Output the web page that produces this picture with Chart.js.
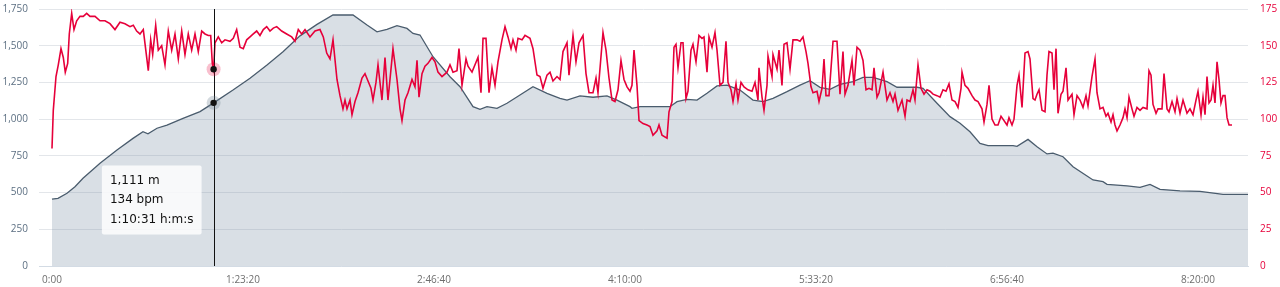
<!DOCTYPE html>
<html>
<head>
<meta charset="utf-8">
<script src="https://cdn.jsdelivr.net/npm/chart.js@4.4.1/dist/chart.umd.min.js"></script>
<style>
  html, body { margin: 0; padding: 0; background: #fff; }
  #wrap { position: relative; width: 1280px; height: 287px; }
</style>
</head>
<body>
<div id="wrap"><canvas id="profile"></canvas></div>
<script>
// elevation profile (seconds from start, metres)
var elevTimes = [0,157,393,602,812,1257,1702,2121,2382,2513,
  2749,3011,3430,3875,4231,4739,5184,5629,6048,6493,
  6938,7356,7880,8247,8509,8770,9032,9294,9451,9634,
  9975,10420,10682,11022,11205,11388,11650,11912,12252,12592,
  12959,13299,13483,13823,14164,14530,14792,15132,15184,15394,
  16179,16363,16624,16886,17148,17410,17672,18012,18352,18614,
  18876,19242,19583,19844,20106,20368,20630,20970,21232,21494,
  21860,22122,22646,22803,23169,23510,23772,24033,24295,24505,
  25159,25264,25552,25788,26049,26206,26468,26730,27096,27254,
  27515,27620,28144,28484,28746,29008,29531,30055,30658,31311];
var elevValues = [455,461,495,540,597,699,790,869,914,900,
  938,960,1005,1051,1111,1198,1278,1369,1459,1567,
  1645,1709,1709,1641,1595,1611,1636,1618,1584,1573,
  1425,1289,1221,1085,1067,1085,1074,1108,1164,1221,
  1176,1142,1130,1158,1149,1158,1130,1085,1074,1085,
  1085,1119,1135,1130,1176,1226,1232,1198,1130,1119,
  1142,1187,1232,1262,1217,1203,1237,1255,1285,1285,
  1255,1217,1217,1210,1108,1017,972,914,835,819,
  819,815,862,812,763,768,744,676,613,586,
  574,556,545,536,556,522,511,508,488,488];

// heart rate (seconds from start, bpm)
var hrTimes = [0,34,105,165,236,296,348,411,453,516,
  576,647,733,819,908,995,1126,1257,1388,1518,
  1649,1780,1911,2042,2128,2217,2304,2390,2479,2521,
  2584,2636,2715,2783,2872,2958,3045,3134,3220,3307,
  3396,3482,3568,3657,3744,3830,3919,4006,4092,4155,
  4197,4231,4267,4354,4443,4529,4660,4746,4835,4922,
  5008,5097,5184,5270,5359,5445,5532,5621,5707,5794,
  5883,6013,6144,6275,6362,6448,6537,6624,6754,6885,
  7016,7103,7192,7278,7357,7461,7540,7618,7671,7723,
  7802,7854,7933,8011,8116,8194,8273,8351,8404,8482,
  8535,8639,8718,8796,8927,9032,9111,9163,9242,9320,
  9425,9503,9556,9608,9687,9765,9844,9948,10027,10105,
  10210,10341,10420,10498,10603,10655,10734,10839,10891,10996,
  11074,11153,11231,11284,11362,11441,11519,11598,11676,11781,
  11860,11938,12017,12069,12148,12200,12305,12383,12514,12593,
  12697,12776,12854,12959,13038,13116,13221,13299,13378,13483,
  13535,13640,13718,13797,13902,13980,14059,14163,14242,14294,
  14425,14504,14582,14661,14739,14818,14896,14975,15054,15132,
  15184,15237,15315,15368,15472,15577,15656,15734,15839,15891,
  15970,16101,16153,16232,16284,16336,16389,16467,16520,16598,
  16650,16729,16781,16860,16938,17017,17069,17148,17200,17279,
  17357,17410,17488,17567,17645,17698,17776,17829,17907,17959,
  18038,18117,18221,18326,18405,18483,18509,18588,18640,18719,
  18745,18850,18876,18981,19033,19111,19164,19242,19321,19399,
  19504,19583,19661,19740,19792,19871,19923,20028,20080,20159,
  20211,20263,20342,20447,20551,20630,20708,20761,20839,20944,
  20996,21075,21153,21232,21311,21389,21468,21520,21599,21651,
  21756,21860,21939,22017,22070,22148,22253,22332,22384,22462,
  22541,22593,22672,22750,22829,22908,22986,23065,23169,23248,
  23326,23405,23483,23562,23641,23719,23798,23824,23902,23981,
  24086,24164,24243,24347,24400,24478,24531,24609,24688,24766,
  24845,24897,25002,25054,25133,25185,25264,25316,25395,25473,
  25552,25604,25683,25735,25787,25840,25918,25997,26049,26101,
  26180,26232,26285,26337,26416,26468,26547,26599,26704,26756,
  26835,26913,26992,27070,27122,27227,27306,27358,27437,27515,
  27594,27646,27725,27777,27829,27882,27960,28039,28091,28144,
  28196,28274,28327,28405,28484,28562,28667,28719,28772,28824,
  28903,28955,29060,29112,29191,29243,29322,29400,29453,29531,
  29610,29714,29793,29871,29950,30002,30081,30133,30186,30238,
  30290,30343,30395,30447,30500,30552,30604,30657,30709,30762,
  30814,30892];
var hrValues = [80,106,129,137,148,142,132,138,158,172,
  161,167,170,170,172,170,170,167,167,165,
  161,166,165,163,164,160,158,161,142,133,
  154,144,164,147,150,137,160,147,158,141,
  160,144,158,147,158,146,160,158,157,157,
  138,134,152,156,152,154,153,155,161,149,
  148,154,156,158,160,157,161,163,160,162,
  163,160,158,156,153,161,158,161,156,160,
  161,156,145,141,154,127,116,107,113,107,
  113,103,112,118,128,131,126,121,113,125,
  137,113,142,113,148,127,107,99,113,118,
  127,122,140,115,131,136,138,142,139,132,
  129,132,137,132,133,148,123,141,136,132,
  137,142,118,155,155,118,135,123,139,154,
  163,156,148,154,147,155,154,157,155,148,
  130,129,121,130,132,126,129,127,146,152,
  130,157,139,152,157,131,118,118,128,118,
  159,147,128,113,112,120,140,127,122,119,
  123,147,123,99,97,96,95,89,92,96,
  89,87,105,112,149,151,135,152,152,114,
  119,147,151,139,157,155,156,132,156,149,
  159,147,123,125,153,125,120,112,124,113,
  125,122,120,119,125,113,135,115,106,123,
  143,129,144,134,147,123,151,152,134,154,
  154,153,156,146,138,122,118,119,112,121,
  141,116,116,153,153,117,146,117,123,140,
  123,149,147,140,120,121,120,135,115,118,
  132,113,118,112,117,106,113,102,113,112,
  120,113,137,121,117,120,119,117,116,115,
  120,119,124,113,112,108,121,132,123,121,
  116,113,112,107,98,110,123,100,96,96,
  102,100,96,101,96,100,123,130,108,145,
  146,141,114,113,117,120,106,105,130,146,
  145,120,148,104,117,119,135,113,117,103,
  116,113,108,116,109,129,141,118,107,108,
  102,104,98,103,96,92,96,101,107,101,
  115,107,102,108,106,108,107,133,130,110,
  104,107,107,131,107,105,112,105,114,104,
  113,104,107,103,113,119,103,115,103,129,
  111,113,123,111,139,127,111,116,116,101,
  96,96];

var timeTicks = [0, 5000, 10000, 15000, 20000, 25000, 30000];
var elevTicks = [0, 250, 500, 750, 1000, 1250, 1500, 1750];
var hrTicks = [0, 25, 50, 75, 100, 125, 150, 175];
var cursorTime = 4231;

var haloColors = ["rgba(110,128,146,0.3)", "rgba(232,0,58,0.25)"];

function fmtTime(sec) {
  var h = Math.floor(sec / 3600);
  var m = Math.floor((sec % 3600) / 60);
  var s = Math.round(sec % 60);
  var ss = (s < 10 ? "0" : "") + s;
  if (h > 0) return h + ":" + (m < 10 ? "0" : "") + m + ":" + ss;
  return m + ":" + ss;
}

function zip(xs, ys) {
  return xs.map(function (x, i) { return { x: x, y: ys[i] }; });
}

Chart.Tooltip.positioners.lowLeft = function (items) {
  if (!items.length) return false;
  var area = this.chart.chartArea;
  return { x: items[0].element.x, y: area.bottom - 66 };
};

// vertical cursor line + hover markers
var cursorLine = {
  id: "cursorLine",
  afterDatasetsDraw: function (chart) {
    var active = chart.tooltip.getActiveElements();
    if (!active.length) return;
    var ctx = chart.ctx;
    var x = Math.round(active[0].element.x) + 0.5;
    ctx.save();
    ctx.strokeStyle = "#111";
    ctx.lineWidth = 1;
    ctx.beginPath();
    ctx.moveTo(x, chart.chartArea.top);
    ctx.lineTo(x, chart.chartArea.bottom);
    ctx.stroke();
    active.forEach(function (a) {
      var el = a.element;
      ctx.fillStyle = haloColors[a.datasetIndex];
      ctx.beginPath();
      ctx.arc(el.x, el.y, 7, 0, Math.PI * 2);
      ctx.fill();
      ctx.fillStyle = "#111";
      ctx.beginPath();
      ctx.arc(el.x, el.y, 3.2, 0, Math.PI * 2);
      ctx.fill();
    });
    ctx.restore();
  }
};

var tickFont = { family: "'Open Sans'", size: 10 };

var chart = new Chart(document.getElementById("profile"), {
  type: "line",
  data: {
    datasets: [
      {
        label: "Elevation",
        data: zip(elevTimes, elevValues),
        yAxisID: "yElev",
        order: 2,
        borderColor: "#4a5c6d",
        borderWidth: 1.3,
        backgroundColor: "rgba(120,140,160,0.28)",
        fill: "origin",
        pointRadius: 0,
        pointHoverRadius: 0,
        tension: 0
      },
      {
        label: "Heart rate",
        data: zip(hrTimes, hrValues),
        yAxisID: "yHr",
        order: 1,
        borderColor: "#e6003a",
        borderWidth: 1.6,
        fill: false,
        pointRadius: 0,
        pointHoverRadius: 0,
        tension: 0
      }
    ]
  },
  options: {
    responsive: true,
    maintainAspectRatio: false,
    animation: false,
    devicePixelRatio: 1,
    events: [],
    layout: { padding: { top: 9, left: 0, right: 0, bottom: 0 } },
    plugins: {
      legend: { display: false },
      tooltip: {
        position: "lowLeft",
        xAlign: "right",
        yAlign: "center",
        caretSize: 0,
        caretPadding: 12,
        backgroundColor: "rgba(255,255,255,0.82)",
        bodyColor: "#111",
        bodyFont: { family: "'DejaVu Sans'", size: 12 },
        padding: 8,
        bodySpacing: 5,
        cornerRadius: 2,
        displayColors: false,
        callbacks: {
          title: function () { return ""; },
          label: function (item) {
            if (item.datasetIndex === 0) return item.parsed.y.toLocaleString("en-US") + " m";
            return item.parsed.y + " bpm";
          },
          afterBody: function (items) {
            return fmtTime(items[0].parsed.x) + " h:m:s";
          }
        }
      }
    },
    scales: {
      x: {
        type: "linear",
        min: -340,
        max: 31311,
        afterBuildTicks: function (scale) {
          scale.ticks = timeTicks.map(function (v) { return { value: v }; });
        },
        afterFit: function (scale) { scale.height = 21; },
        grid: { display: false, drawTicks: false },
        border: { display: true, color: "#d3dbe4", width: 1 },
        ticks: {
          color: "#6e6e6e",
          font: tickFont,
          padding: 8,
          maxRotation: 0,
          autoSkip: false,
          callback: function (v) { return fmtTime(v); }
        }
      },
      yElev: {
        position: "left",
        min: 0,
        max: 1750,
        afterBuildTicks: function (scale) {
          scale.ticks = elevTicks.map(function (v) { return { value: v }; });
        },
        afterFit: function (scale) { scale.width = 39; },
        grid: { color: "#e3e6ea", drawTicks: true, tickLength: 11, tickColor: "rgba(0,0,0,0)" },
        border: { display: false },
        ticks: {
          color: "#5c6f82",
          font: tickFont,
          padding: 0,
          callback: function (v) { return v.toLocaleString("en-US"); }
        }
      },
      yHr: {
        position: "right",
        min: 0,
        max: 175,
        afterBuildTicks: function (scale) {
          scale.ticks = hrTicks.map(function (v) { return { value: v }; });
        },
        afterFit: function (scale) { scale.width = 32; },
        grid: { display: false, drawTicks: true, tickLength: 12 },
        border: { display: false },
        ticks: { color: "#e6003a", font: tickFont, padding: 0 }
      }
    }
  },
  plugins: [cursorLine]
});

var active = [
  { datasetIndex: 0, index: elevTimes.indexOf(cursorTime) },
  { datasetIndex: 1, index: hrTimes.indexOf(cursorTime) }
];
chart.setActiveElements(active);
chart.tooltip.setActiveElements(active, { x: 0, y: 0 });
chart.update();
</script>
</body>
</html>
